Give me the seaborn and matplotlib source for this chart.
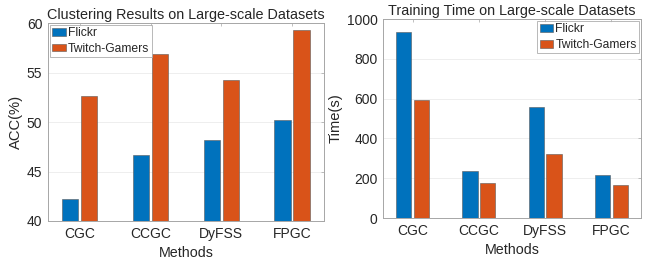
import pandas as pd
import seaborn as sns
import matplotlib
matplotlib.use("Agg")
import matplotlib.pyplot as plt

methods = ["CGC", "CCGC", "DyFSS", "FPGC"]
datasets = ["Flickr", "Twitch-Gamers"]
acc_flickr = [42.2, 46.7, 48.2, 50.2]
acc_twitch = [52.6, 56.9, 54.2, 59.3]
time_flickr = [935, 236, 557, 217]
time_twitch = [595, 177, 323, 167]

sns.set_style("white")
plt.rcParams["font.family"] = ["Liberation Sans", "DejaVu Sans"]

colors = ["#0072BD", "#D95319"]
text_col = "#262626"
frame_col = "#a6a6a6"


def make_df(a, b):
    rows = []
    for m, v in zip(methods, a):
        rows.append({"Method": m, "Dataset": datasets[0], "value": v})
    for m, v in zip(methods, b):
        rows.append({"Method": m, "Dataset": datasets[1], "value": v})
    return pd.DataFrame(rows)


def draw(ax, df, title, ylabel, ylim, yticks, legend_loc):
    sns.barplot(data=df, x="Method", y="value", hue="Dataset", order=methods,
                hue_order=datasets, palette=colors, width=0.54, gap=0.15,
                saturation=1, edgecolor="#5a5a5a", linewidth=0.4, ax=ax, zorder=3)
    ax.set_xlim(-0.45, 3.45)
    ax.set_ylim(*ylim)
    ax.set_yticks(yticks)
    ax.set_title(title, fontsize=10.4, color=text_col, pad=3)
    ax.set_xlabel("Methods", fontsize=10.3, color=text_col, labelpad=4)
    ax.set_ylabel(ylabel, fontsize=10.6, color=text_col, labelpad=3)
    ax.tick_params(axis="both", labelsize=10, colors=text_col, direction="in",
                   length=2.5, width=0.5, pad=4, top=True, right=True)
    ax.tick_params(axis="both", color=frame_col)
    ax.grid(axis="y", color="#ebebeb", linewidth=0.6, zorder=0)
    ax.grid(axis="x", visible=False)
    for s in ax.spines.values():
        s.set_color(frame_col)
        s.set_linewidth(0.7)
    leg = ax.legend(loc=legend_loc, fontsize=8.7, frameon=True, fancybox=False,
                    handlelength=1.1, handleheight=0.6, handletextpad=0.2,
                    borderpad=0.2, labelspacing=0.3, borderaxespad=0.15)
    leg.get_frame().set_edgecolor(frame_col)
    leg.get_frame().set_linewidth(0.7)
    for t in leg.get_texts():
        t.set_color(text_col)


fig = plt.figure(figsize=(6.52, 2.60), dpi=100)
ax1 = fig.add_axes([0.0736, 0.15, 0.423, 0.7615])
ax2 = fig.add_axes([0.5874, 0.1615, 0.3957, 0.765])

draw(ax1, make_df(acc_flickr, acc_twitch), "Clustering Results on Large-scale Datasets",
     "ACC(%)", (40, 60), [40, 45, 50, 55, 60], "upper left")
draw(ax2, make_df(time_flickr, time_twitch), "Training Time on Large-scale Datasets",
     "Time(s)", (0, 1000), [0, 200, 400, 600, 800, 1000], "upper right")

fig.savefig("out.png", dpi=100)
